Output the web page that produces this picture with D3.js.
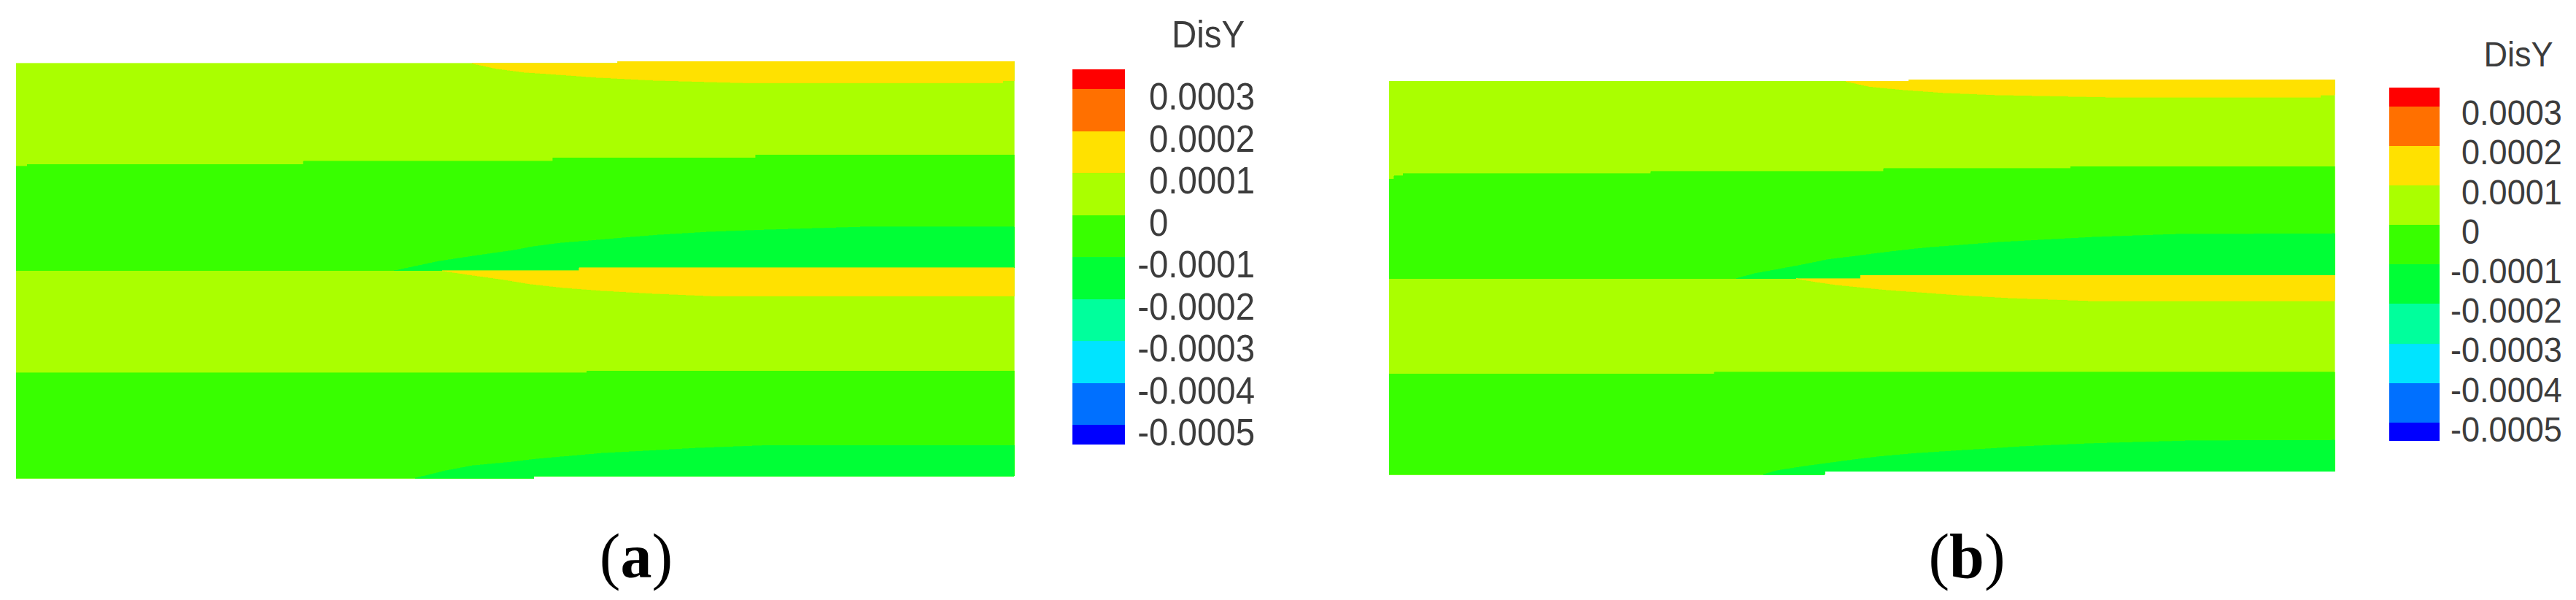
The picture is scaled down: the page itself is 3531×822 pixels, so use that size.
<!DOCTYPE html>
<html><head><meta charset="utf-8">
<script src="https://cdn.jsdelivr.net/npm/d3@7"></script>
<style>html,body{margin:0;padding:0;background:#fff;} svg{display:block;}</style>
</head><body>
<svg id="chart" width="3531" height="822"></svg>
<script>
// ---------------- data ----------------
// contour levels (DisY) and their labels, low -> high
const contourLevels = [-0.0005, -0.0004, -0.0003, -0.0002, -0.0001, 0, 0.0001, 0.0002, 0.0003];
const levelLabels = ["-0.0005", "-0.0004", "-0.0003", "-0.0002", "-0.0001", "0", "0.0001", "0.0002", "0.0003"];
const bandColors = ["#0000FF", "#0070FF", "#00E4FF", "#00FF9C", "#00FF36", "#38FF00", "#AAFF00", "#FFE100", "#FF7000", "#FF0000"];
const legendTitle = "DisY";
const panelNames = ["a", "b"];

// representative DisY value of each contour region
const valueYellow = 0.00015;
const valueYellowGreen = 0.00005;
const valueGreen = -0.00005;
const valueBrightGreen = -0.00015;

// boundaries: x = % of specimen length, y = % of specimen height (0 = bottom)
// panel (a)
const aTopEdge = [[0, 99.5], [60.3, 99.5], [60.3, 100], [100, 100]];
const aBottomEdge = [[0, 0], [51.9, 0], [51.9, 0.5], [100, 0.5]];
const aUpperZero = [[0, 74.85], [1.1, 74.85], [1.1, 75.22], [28.8, 75.22], [28.8, 76.08], [53.8, 76.08], [53.8, 76.83], [74.1, 76.83], [74.1, 77.58], [100, 77.58]];
const aMidLine = [[0, 49.74], [56.4, 49.74], [56.4, 50.45], [100, 50.45]];
const aLowerZero = [[0, 25.22], [57.2, 25.22], [57.2, 25.74], [100, 25.74]];
const aTopYellow = [[45.7, 99.5], [48.1, 98.25], [50.9, 97.37], [54.1, 96.85], [58.1, 96.15], [63.7, 95.45], [74.05, 94.75], [98.9, 94.75], [98.9, 95.34], [100, 95.34]];
const aUpperBright = [[37.9, 49.74], [42.3, 52.0], [45.7, 53.24], [49.8, 54.64], [51.75, 55.52], [54.5, 56.39], [57.3, 56.92], [60.7, 57.62], [64.3, 58.32], [69.2, 59.02], [74.9, 59.54], [84.65, 60.25], [100, 60.25]];
const aMidYellow = [[42.7, 49.74], [45.2, 48.86], [48.8, 47.64], [51.5, 46.58], [54.75, 45.71], [58.6, 45.0], [63.7, 44.31], [70.5, 43.61], [100, 43.61]];
const aBottomBright = [[40.0, 0], [43.0, 1.75], [45.7, 2.98], [49.6, 3.85], [52.0, 4.55], [55.3, 5.25], [58.6, 5.95], [62.8, 6.48], [68.05, 7.18], [75.7, 7.88], [100, 7.88]];

// panel (b)
const bTopEdge = [[0, 99.54], [55.0, 99.54], [55.0, 100], [100, 100]];
const bBottomEdge = [[0, 0], [46.1, 0], [46.1, 0.74], [100, 0.74]];
const bUpperZero = [[0, 74.86], [0.54, 74.86], [0.54, 75.66], [1.47, 75.66], [1.47, 76.21], [27.7, 76.21], [27.7, 76.78], [52.3, 76.78], [52.3, 77.45], [72.1, 77.45], [72.1, 78.0], [100, 78.0]];
const bMidLine = [[0, 49.61], [49.85, 49.61], [49.85, 50.46], [100, 50.46]];
const bLowerZero = [[0, 25.42], [34.4, 25.42], [34.4, 25.97], [100, 25.97]];
const bTopYellow = [[48.3, 99.54], [50.8, 98.24], [54.3, 97.41], [58.6, 96.67], [64.0, 96.12], [75.8, 95.56], [98.5, 95.56], [98.5, 96.04], [100, 96.04]];
const bUpperBright = [[36.7, 49.61], [38.7, 50.89], [41.1, 51.94], [43.6, 53.05], [46.45, 54.44], [49.3, 55.27], [52.2, 56.19], [55.25, 57.04], [57.2, 57.49], [64.35, 58.78], [74.3, 60.07], [82.9, 60.81], [100, 61.0]];
const bMidYellow = [[43.05, 49.61], [45.06, 48.8], [47.15, 48.06], [49.85, 47.41], [52.5, 46.77], [55.8, 46.21], [60.0, 45.47], [65.4, 44.73], [73.9, 43.99], [100, 43.99]];
const bBottomBright = [[39.6, 0], [41.1, 1.02], [44.0, 2.09], [46.8, 2.99], [49.6, 3.88], [52.2, 4.62], [55.25, 5.27], [60.0, 6.01], [67.2, 7.1], [74.3, 7.84], [85.0, 8.56], [100, 8.69]];

// ---------------- layout ----------------
const panels = [
  { name: panelNames[0], left: 22, right: 1390, top: 84, bottom: 655,
    top_: aTopEdge, bot: aBottomEdge, up0: aUpperZero, mid: aMidLine, low0: aLowerZero,
    ty: aTopYellow, ub: aUpperBright, my: aMidYellow, bb: aBottomBright,
    leg: { x0: 1470, x1: 1542, yTop: 122, yBot: 582, textX: 1575, fs: 51, labelOff: 10, titleX: 1656, titleY: 65 },
    labelX: 872 },
  { name: panelNames[1], left: 1904, right: 3200, top: 109, bottom: 650,
    top_: bTopEdge, bot: bBottomEdge, up0: bUpperZero, mid: bMidLine, low0: bLowerZero,
    ty: bTopYellow, ub: bUpperBright, my: bMidYellow, bb: bBottomBright,
    leg: { x0: 3275, x1: 3344, yTop: 145.5, yBot: 579, textX: 3374, fs: 48.5, labelOff: 8.4, titleX: 3452, titleY: 91 },
    labelX: 2696 }
];

const svg = d3.select("#chart");
const color = d3.scaleThreshold().domain(contourLevels).range(bandColors);

function yAt(line, x) {
  for (let i = 0; i < line.length - 1; i++) {
    const [xa, ya] = line[i], [xb, yb] = line[i + 1];
    if (xb > xa && x >= xa && x <= xb) return ya + (yb - ya) * (x - xa) / (xb - xa);
  }
  return line[line.length - 1][1];
}
function segment(line, x0, x1) {
  const pts = [[x0, yAt(line, x0)]];
  line.forEach(p => { if (p[0] > x0 && p[0] < x1) pts.push(p); });
  pts.push([x1, yAt(line, x1)]);
  return pts;
}
const rev = a => a.slice().reverse();

panels.forEach(p => {
  const x = d3.scaleLinear().domain([0, 100]).range([p.left, p.right]);
  const y = d3.scaleLinear().domain([0, 100]).range([p.bottom, p.top]);
  const line = d3.line().x(d => x(d[0])).y(d => y(d[1]));
  const g = svg.append("g").attr("class", "panel-" + p.name);

  const regions = [
    { pts: [...p.top_, ...rev(p.bot)], v: valueYellowGreen },
    { pts: [...p.up0, ...rev(p.mid)], v: valueGreen },
    { pts: [...p.low0, ...rev(p.bot)], v: valueGreen },
    { pts: [...p.ub, ...rev(segment(p.mid, p.ub[0][0], 100))], v: valueBrightGreen },
    { pts: [...p.bb, ...rev(segment(p.bot, p.bb[0][0], 100))], v: valueBrightGreen },
    { pts: [...segment(p.top_, p.ty[0][0], 100), ...rev(p.ty)], v: valueYellow },
    { pts: [...segment(p.mid, p.my[0][0], 100), ...rev(p.my)], v: valueYellow }
  ];
  g.selectAll("path.region").data(regions).join("path")
    .attr("class", "region")
    .attr("d", d => line(d.pts) + "Z")
    .attr("fill", d => color(d.v))
    .attr("stroke", d => color(d.v))
    .attr("stroke-width", 0.6)
    .attr("shape-rendering", "crispEdges");

  // legend
  const L = p.leg;
  const desc = contourLevels.slice().reverse();
  const descLabels = levelLabels.slice().reverse();
  const ly = d3.scaleLinear().domain([desc[0], desc[desc.length - 1]]).range([L.yTop, L.yBot]);
  const step = (L.yBot - L.yTop) / (desc.length - 1);
  const endH = step * 0.47;
  const bands = d3.range(desc.length + 1).map(i => ({
    y0: i === 0 ? ly(desc[0]) - endH : ly(desc[i - 1]),
    y1: i === desc.length ? ly(desc[desc.length - 1]) + endH : ly(desc[i]),
    c: bandColors[desc.length - i]
  }));
  const lg = svg.append("g").attr("class", "legend-" + p.name);
  lg.selectAll("rect").data(bands).join("rect")
    .attr("x", L.x0).attr("width", L.x1 - L.x0)
    .attr("y", d => d.y0).attr("height", d => d.y1 - d.y0)
    .attr("fill", d => d.c).attr("shape-rendering", "crispEdges");

  const sx = 0.93;
  // measure the minus sign so digits line up
  const probe = svg.append("text").attr("font-family", "'Liberation Sans', Arial, sans-serif")
    .attr("font-size", L.fs).text("-");
  const minusW = probe.node().getComputedTextLength() * sx;
  probe.remove();

  lg.selectAll("g.lab").data(desc).join("g").attr("class", "lab")
    .attr("transform", (d, i) => {
      const xx = L.textX - (descLabels[i].startsWith("-") ? minusW : 0);
      const yy = ly(d) + L.labelOff + 0.358 * L.fs;
      return `translate(${xx},${yy}) scale(${sx},1)`;
    })
    .append("text")
    .attr("font-family", "'Liberation Sans', Arial, sans-serif")
    .attr("font-size", L.fs).attr("fill", "#3c3c3c")
    .text((d, i) => descLabels[i]);

  svg.append("text")
    .attr("transform", `translate(${L.titleX},${L.titleY}) scale(${sx},1)`)
    .attr("text-anchor", "middle")
    .attr("font-family", "'Liberation Sans', Arial, sans-serif")
    .attr("font-size", L.fs).attr("fill", "#3c3c3c")
    .text(legendTitle);

  // panel caption
  const cap = svg.append("text")
    .attr("x", p.labelX).attr("y", 791)
    .attr("text-anchor", "middle")
    .attr("font-family", "'Liberation Serif', 'Times New Roman', serif")
    .attr("font-size", 86).attr("fill", "#000");
  cap.append("tspan").text("(");
  cap.append("tspan").attr("font-weight", "bold").text(p.name);
  cap.append("tspan").text(")");
});
</script>
</body></html>
